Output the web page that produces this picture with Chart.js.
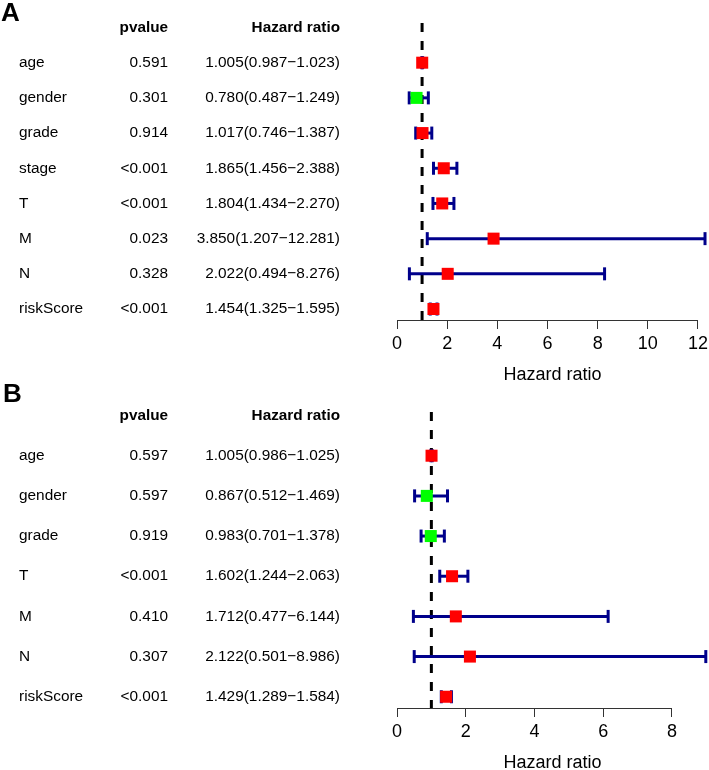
<!DOCTYPE html>
<html>
<head>
<meta charset="utf-8">
<script src="https://cdn.jsdelivr.net/npm/chart.js@4.4.0/dist/chart.umd.min.js"></script>
<style>
  html, body { margin: 0; background: #ffffff; overflow: hidden; }
  #wrap { position: relative; width: 709px; height: 770px; overflow: hidden; }
  canvas { position: absolute; left: 0; }
</style>
</head>
<body>
<div id="wrap">
  <canvas id="forestA" width="709" height="385" style="top:0px"></canvas>
  <canvas id="forestB" width="709" height="392" style="top:380px"></canvas>
</div>
<script>
// Panel A - univariate
const varsA = ["age", "gender", "grade", "stage", "T", "M", "N", "riskScore"];
const pvalA = ["0.591", "0.301", "0.914", "<0.001", "<0.001", "0.023", "0.328", "<0.001"];
const hrA   = [1.005, 0.780, 1.017, 1.865, 1.804, 3.850, 2.022, 1.454];
const lowA  = [0.987, 0.487, 0.746, 1.456, 1.434, 1.207, 0.494, 1.325];
const highA = [1.023, 1.249, 1.387, 2.388, 2.270, 12.281, 8.276, 1.595];
const ticksA = [0, 2, 4, 6, 8, 10, 12];

// Panel B - multivariate
const varsB = ["age", "gender", "grade", "T", "M", "N", "riskScore"];
const pvalB = ["0.597", "0.597", "0.919", "<0.001", "0.410", "0.307", "<0.001"];
const hrB   = [1.005, 0.867, 0.983, 1.602, 1.712, 2.122, 1.429];
const lowB  = [0.986, 0.512, 0.701, 1.244, 0.477, 0.501, 1.289];
const highB = [1.025, 1.469, 1.378, 2.063, 6.144, 8.986, 1.584];
const ticksB = [0, 2, 4, 6, 8];

const refLine = 1;
const FONT = "'Liberation Sans', Arial, Helvetica, sans-serif";
const CI_COLOR = "#00008B";

function hrLabel(hr, low, high, i) {
  return hr[i].toFixed(3) + "(" + low[i].toFixed(3) + "\u2212" + high[i].toFixed(3) + ")";
}

function makeForest(canvasId, p) {
  const datasets = [];

  // squares on top
  datasets.push({
    label: "HR",
    data: p.hr.map((v, i) => ({ x: v, y: i })),
    pointStyle: "rect",
    pointRadius: 8.5,
    pointBorderWidth: 0,
    pointBackgroundColor: p.hr.map(v => v > 1 ? "#FF0000" : "#00FF00"),
    showLine: false,
    order: 0
  });

  // confidence intervals with caps
  p.vars.forEach((name, i) => {
    datasets.push({
      label: name,
      data: [{ x: p.low[i], y: i }, { x: p.high[i], y: i }],
      showLine: true,
      borderColor: CI_COLOR,
      borderWidth: 3,
      pointStyle: "line",
      rotation: 90,
      pointRadius: 6.5,
      pointBorderColor: CI_COLOR,
      pointBorderWidth: 3,
      order: 1
    });
  });

  // reference line at HR = 1
  datasets.push({
    label: "ref",
    data: [{ x: refLine, y: p.yMin }, { x: refLine, y: p.yMax }],
    showLine: true,
    borderColor: "#000000",
    borderWidth: 3,
    borderDash: [9, 9],
    pointRadius: 0,
    order: 2
  });

  // table text + axis line
  const tablePlugin = {
    id: "table",
    afterDraw(chart) {
      const ctx = chart.ctx;
      const ys = chart.scales.y;
      const xs = chart.scales.x;
      ctx.save();
      ctx.fillStyle = "#000000";
      ctx.textBaseline = "middle";

      ctx.font = "bold 26px " + FONT;
      ctx.textAlign = "left";
      ctx.fillText(p.letter, p.letterX, p.letterY);

      const headY = ys.getPixelForValue(-1);
      ctx.font = "bold 15.3px " + FONT;
      ctx.textAlign = "right";
      ctx.fillText("pvalue", 168, headY);
      ctx.fillText("Hazard ratio", 340, headY);

      ctx.font = "15.4px " + FONT;
      p.vars.forEach((name, i) => {
        const y = ys.getPixelForValue(i);
        ctx.textAlign = "left";
        ctx.fillText(name, 19, y);
        ctx.textAlign = "right";
        ctx.fillText(p.pvals[i], 168, y);
        ctx.fillText(hrLabel(p.hr, p.low, p.high, i), 340, y);
      });

      // axis line from first to last tick
      const axisY = chart.chartArea.bottom;
      ctx.strokeStyle = "#333333";
      ctx.lineWidth = 1;
      ctx.beginPath();
      ctx.moveTo(xs.getPixelForValue(p.ticks[0]), axisY + 0.5);
      ctx.lineTo(xs.getPixelForValue(p.ticks[p.ticks.length - 1]), axisY + 0.5);
      ctx.stroke();
      ctx.restore();
    }
  };

  return new Chart(document.getElementById(canvasId), {
    type: "scatter",
    data: { datasets: datasets },
    plugins: [tablePlugin],
    options: {
      responsive: false,
      animation: false,
      events: [],
      layout: {
        autoPadding: false,
        padding: { left: 397, right: 1, top: p.padTop, bottom: p.padBottom }
      },
      plugins: {
        legend: { display: false },
        tooltip: { enabled: false }
      },
      scales: {
        x: {
          type: "linear",
          position: "bottom",
          bounds: "data",
          min: 0,
          max: p.xMax,
          afterBuildTicks: function(scale) {
            scale.ticks = p.ticks.map(v => ({ value: v }));
          },
          afterFit: function(scale) {
            scale.height = 64;
            scale.paddingLeft = 0;
            scale.paddingRight = 0;
          },
          ticks: {
            autoSkip: false,
            maxRotation: 0,
            padding: 4,
            color: "#000000",
            font: { family: FONT, size: 18 }
          },
          grid: {
            drawOnChartArea: false,
            drawTicks: true,
            tickLength: 9,
            color: "#333333",
            lineWidth: 1
          },
          border: { display: false },
          title: {
            display: true,
            text: "Hazard ratio",
            color: "#000000",
            font: { family: FONT, size: 18, lineHeight: 1 },
            padding: { top: 0, bottom: 0 }
          }
        },
        y: {
          type: "linear",
          display: false,
          reverse: true,
          min: p.yMin,
          max: p.yMax
        }
      }
    }
  });
}

makeForest("forestA", {
  letter: "A", letterX: 1, letterY: 14,
  vars: varsA, pvals: pvalA, hr: hrA, low: lowA, high: highA, ticks: ticksA,
  xMax: 12.4, yMin: -1.128, yMax: 7.312, padTop: 23, padBottom: 1
});

makeForest("forestB", {
  letter: "B", letterX: 3, letterY: 15,
  vars: varsB, pvals: pvalB, hr: hrB, low: lowB, high: highB, ticks: ticksB,
  xMax: 9.05, yMin: -1.088, yMax: 6.28, padTop: 32, padBottom: 0
});
</script>
</body>
</html>
